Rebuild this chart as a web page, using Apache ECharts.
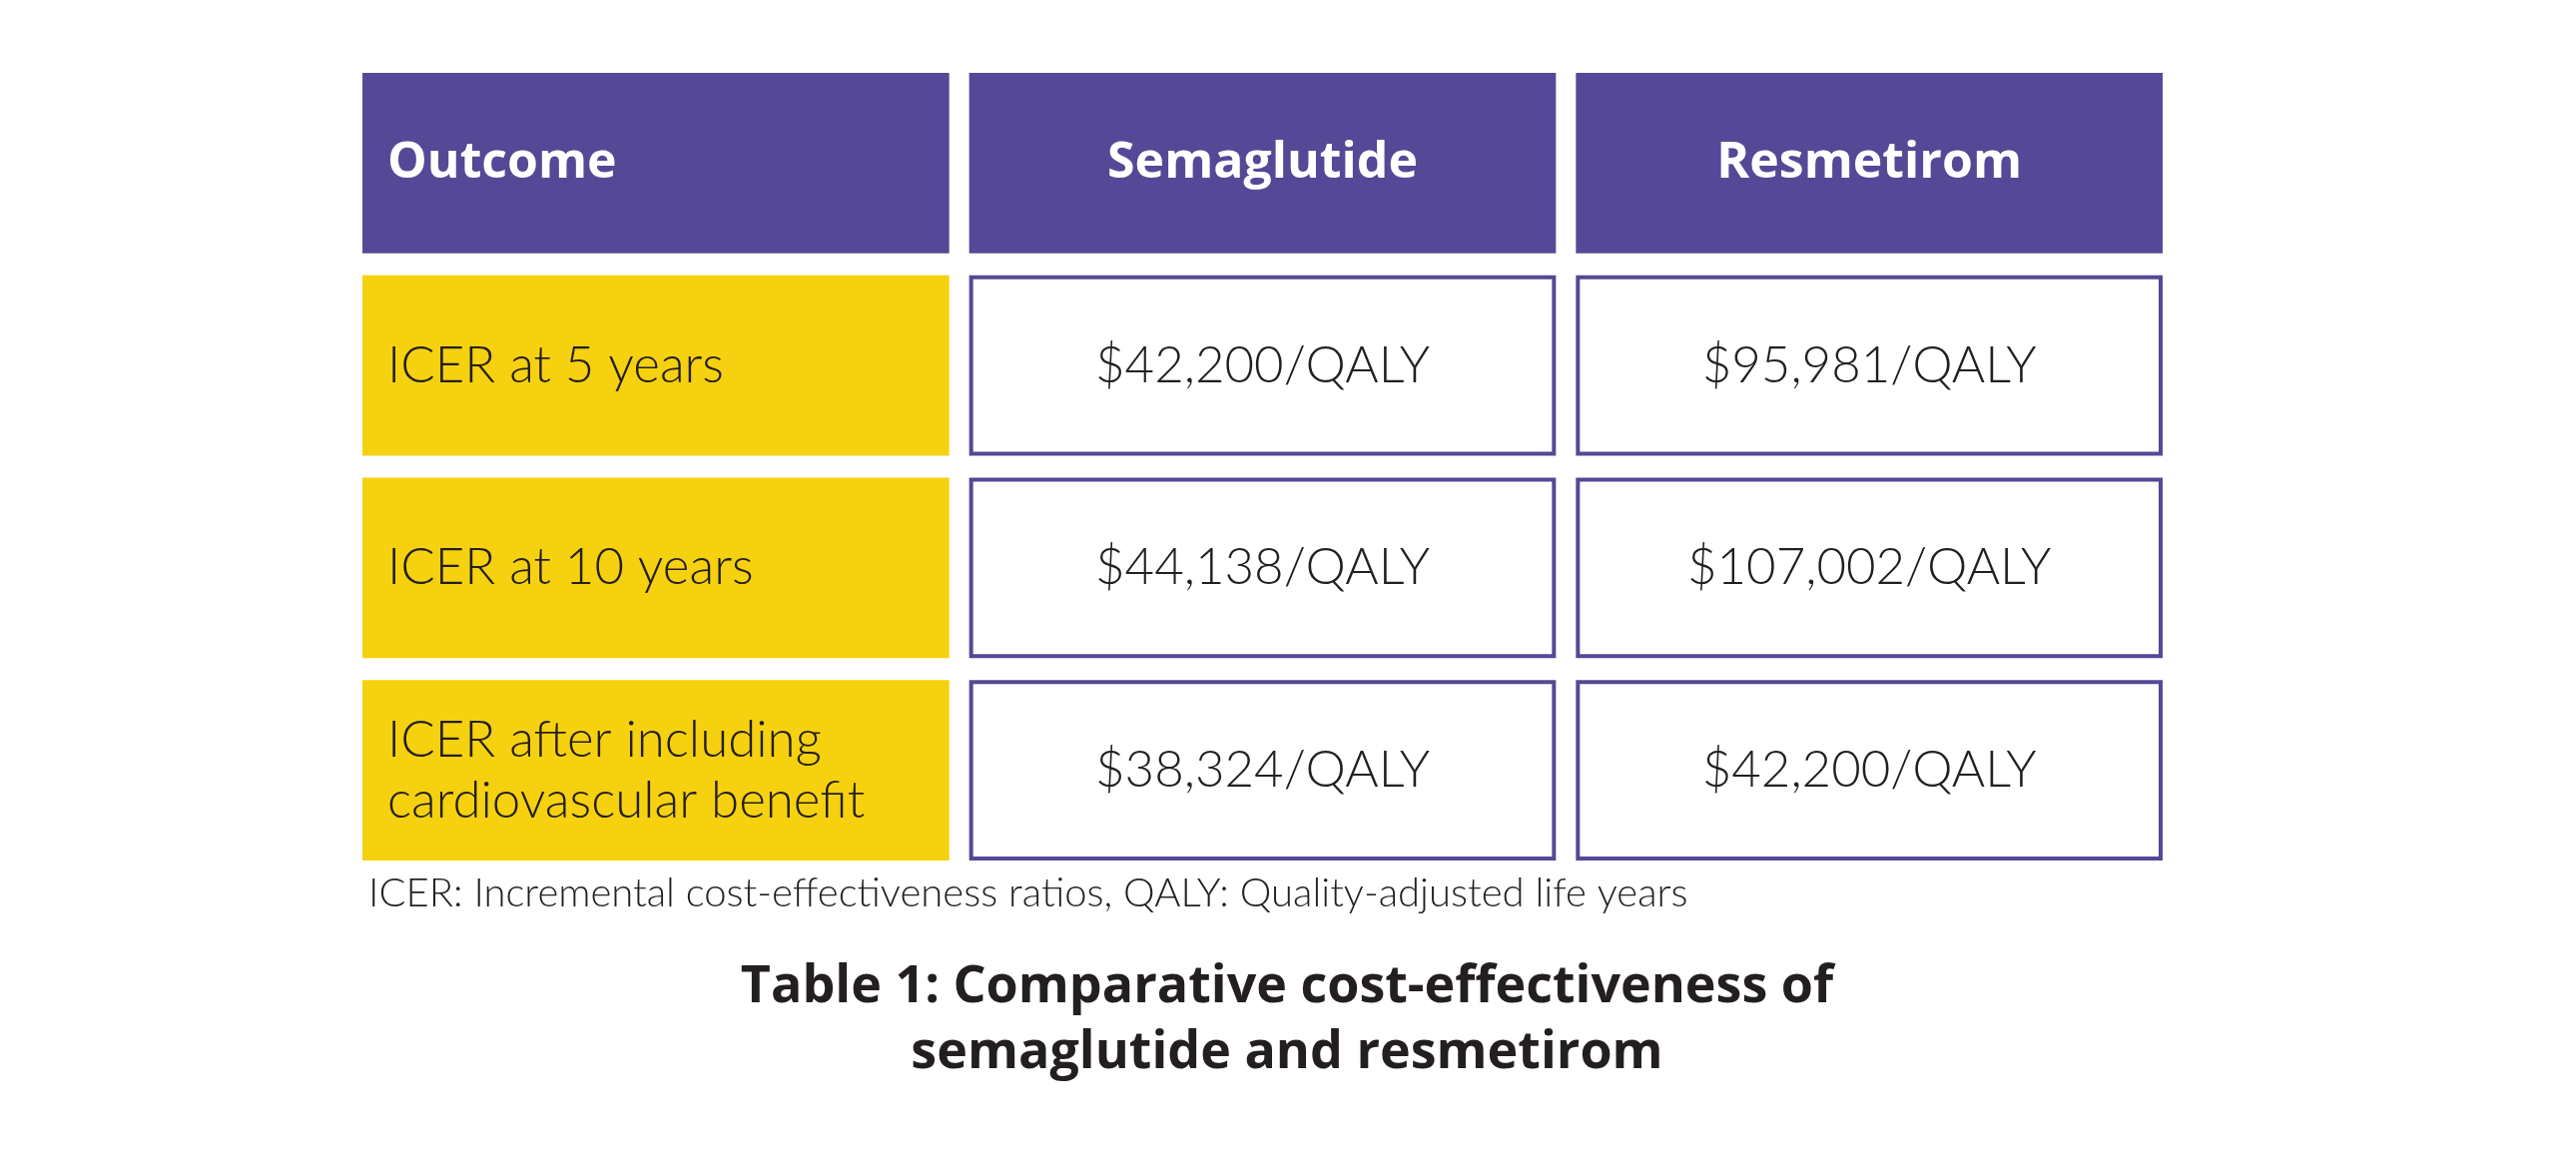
<!DOCTYPE html>
<html>
<head>
<meta charset="utf-8">
<title>Comparative cost-effectiveness of semaglutide and resmetirom</title>
<script src="https://cdn.jsdelivr.net/npm/echarts@6/dist/echarts.min.js"></script>
<style>
    html, body { margin: 0; padding: 0; background: #fff; }
    #chart { width: 2580px; height: 1157px; }
</style>
</head>
<body>
<div id="chart"></div>
<script>
// table data
const columns = ['Outcome', 'Semaglutide', 'Resmetirom'];
const outcomes = ['ICER at 5 years', 'ICER at 10 years', 'ICER after including\ncardiovascular benefit'];
const semaglutide = [42200, 44138, 38324];
const resmetirom = [95981, 107002, 42200];
const rowKeys = ['header', 'r1', 'r2', 'r3'];

const footnote = 'ICER: Incremental cost-effectiveness ratios, QALY: Quality-adjusted life years';
const caption = 'Table 1: Comparative cost-effectiveness of\nsemaglutide and resmetirom';

const PURPLE = '#554896';
const YELLOW = '#f6d10f';
const INK = '#231f20';
const FONT = 'Lato, "Open Sans", sans-serif';
const BOLD_FONT = '"Open Sans", Lato, sans-serif';

function fmt(v) {
    return '$' + v.toLocaleString('en-US') + '/QALY';
}

// one entry per cell: [col, row, text]
const cells = [];
columns.forEach((name, c) => cells.push([c, 0, name]));
outcomes.forEach((o, i) => {
    cells.push([0, i + 1, o]);
    cells.push([1, i + 1, fmt(semaglutide[i])]);
    cells.push([2, i + 1, fmt(resmetirom[i])]);
});

const colGap = 20;   // white space between columns
const rowGap = 22;   // white space between rows

function renderItem(params, api) {
    const col = api.value(0);
    const row = api.value(1);
    const txt = cells[params.dataIndex][2];
    const p = api.coord([col, row]);
    const s = api.size([1, 1]);
    const w = s[0] - colGap;
    const h = s[1] - rowGap;
    const x = p[0] - w / 2;
    const y = p[1] - h / 2;

    let rect, textStyle;
    if (row === 0) {
        rect = { type: 'rect', shape: { x: x, y: y, width: w, height: h }, style: { fill: PURPLE } };
        textStyle = { fill: '#fff', fontFamily: BOLD_FONT, fontWeight: 'bold', fontSize: 50 };
    } else if (col === 0) {
        rect = { type: 'rect', shape: { x: x, y: y, width: w, height: h }, style: { fill: YELLOW } };
        textStyle = { fill: INK, fontFamily: FONT, fontWeight: 300, fontSize: 51 };
    } else {
        rect = { type: 'rect', shape: { x: x + 2, y: y + 2, width: w - 4, height: h - 4 },
                 style: { fill: '#fff', stroke: PURPLE, lineWidth: 4 } };
        textStyle = { fill: INK, fontFamily: FONT, fontWeight: 300, fontSize: 51 };
    }

    const left = col === 0;
    return {
        type: 'group',
        children: [
            rect,
            {
                type: 'text',
                x: left ? x + 25 : p[0],
                y: p[1],
                style: Object.assign({
                    text: txt,
                    lineHeight: 61,
                    align: left ? 'left' : 'center',
                    verticalAlign: 'middle'
                }, textStyle)
            }
        ]
    };
}

const chart = echarts.init(document.getElementById('chart'));

const option = {
    backgroundColor: '#fff',
    animation: false,
    title: [
        {
            text: footnote,
            left: 364,
            top: 870,
            textStyle: { fontFamily: FONT, fontWeight: 300, fontSize: 40, color: INK }
        },
        {
            text: caption,
            left: 1284,
            top: 951,
            textAlign: 'center',
            textStyle: { fontFamily: BOLD_FONT, fontWeight: 'bold', fontSize: 52, lineHeight: 66, color: INK }
        }
    ],
    grid: { left: 353, right: 404, top: 62, bottom: 284 },
    xAxis: { type: 'category', data: columns, show: false },
    yAxis: { type: 'category', data: rowKeys, inverse: true, show: false },
    series: [
        {
            type: 'custom',
            renderItem: renderItem,
            encode: { x: 0, y: 1 },
            data: cells.map(d => [d[0], d[1]])
        }
    ]
};

chart.setOption(option);
</script>
</body>
</html>
